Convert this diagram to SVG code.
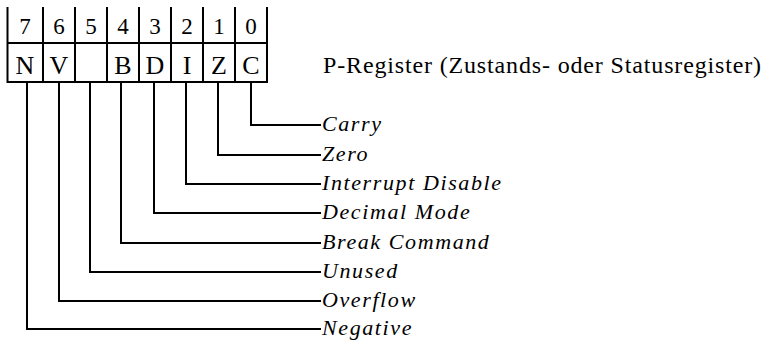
<svg xmlns="http://www.w3.org/2000/svg" width="769" height="341" viewBox="0 0 769 341">
<style>
.ln{fill:none;stroke:#000;stroke-width:2;stroke-linecap:square}
.dig{font-family:"Liberation Serif",serif;font-size:23px;text-anchor:middle;fill:#000}
.flag{font-family:"Liberation Serif",serif;font-size:26px;text-anchor:middle;fill:#000}
.lbl{font-family:"Liberation Serif",serif;font-style:italic;font-size:22px;letter-spacing:1.6px;fill:#000}
.ttl{font-family:"Liberation Serif",serif;font-size:24px;letter-spacing:0.85px;fill:#000}
</style>
<rect width="769" height="341" fill="#fff"/>
<g id="register">
<path class="ln" d="M7.5,8V82M43,8V82M75,8V82M107,8V82M139,8V82M171,8V82M203,8V82M235,8V82M267,8V82M7.5,43H267M7.5,82H267"/>
<text class="dig" x="25" y="34">7</text>
<text class="dig" x="59" y="34">6</text>
<text class="dig" x="91" y="34">5</text>
<text class="dig" x="123" y="34">4</text>
<text class="dig" x="155" y="34">3</text>
<text class="dig" x="187" y="34">2</text>
<text class="dig" x="219" y="34">1</text>
<text class="dig" x="251" y="34">0</text>
<text class="flag" x="25" y="74">N</text>
<text class="flag" x="59" y="74">V</text>
<text class="flag" x="123" y="74">B</text>
<text class="flag" x="155" y="74">D</text>
<text class="flag" x="187" y="74">I</text>
<text class="flag" x="219" y="74">Z</text>
<text class="flag" x="251" y="74">C</text>
</g>
<g id="title"><text class="ttl" x="323" y="73">P-Register (Zustands- oder Statusregister)</text></g>
<g id="connectors">
<path class="ln" d="M251,82V125H320"/>
<path class="ln" d="M218,82V155H320"/>
<path class="ln" d="M186,82V184H320"/>
<path class="ln" d="M154,82V213H320"/>
<path class="ln" d="M121,82V243H320"/>
<path class="ln" d="M90,82V272H320"/>
<path class="ln" d="M59,82V301H320"/>
<path class="ln" d="M27,82V329H320"/>
</g>
<g id="labels">
<text class="lbl" x="322" y="131">Carry</text>
<text class="lbl" x="322" y="161">Zero</text>
<text class="lbl" x="322" y="190">Interrupt Disable</text>
<text class="lbl" x="322" y="219">Decimal Mode</text>
<text class="lbl" x="322" y="249">Break Command</text>
<text class="lbl" x="322" y="278">Unused</text>
<text class="lbl" x="322" y="307">Overflow</text>
<text class="lbl" x="322" y="335">Negative</text>
</g>
</svg>
